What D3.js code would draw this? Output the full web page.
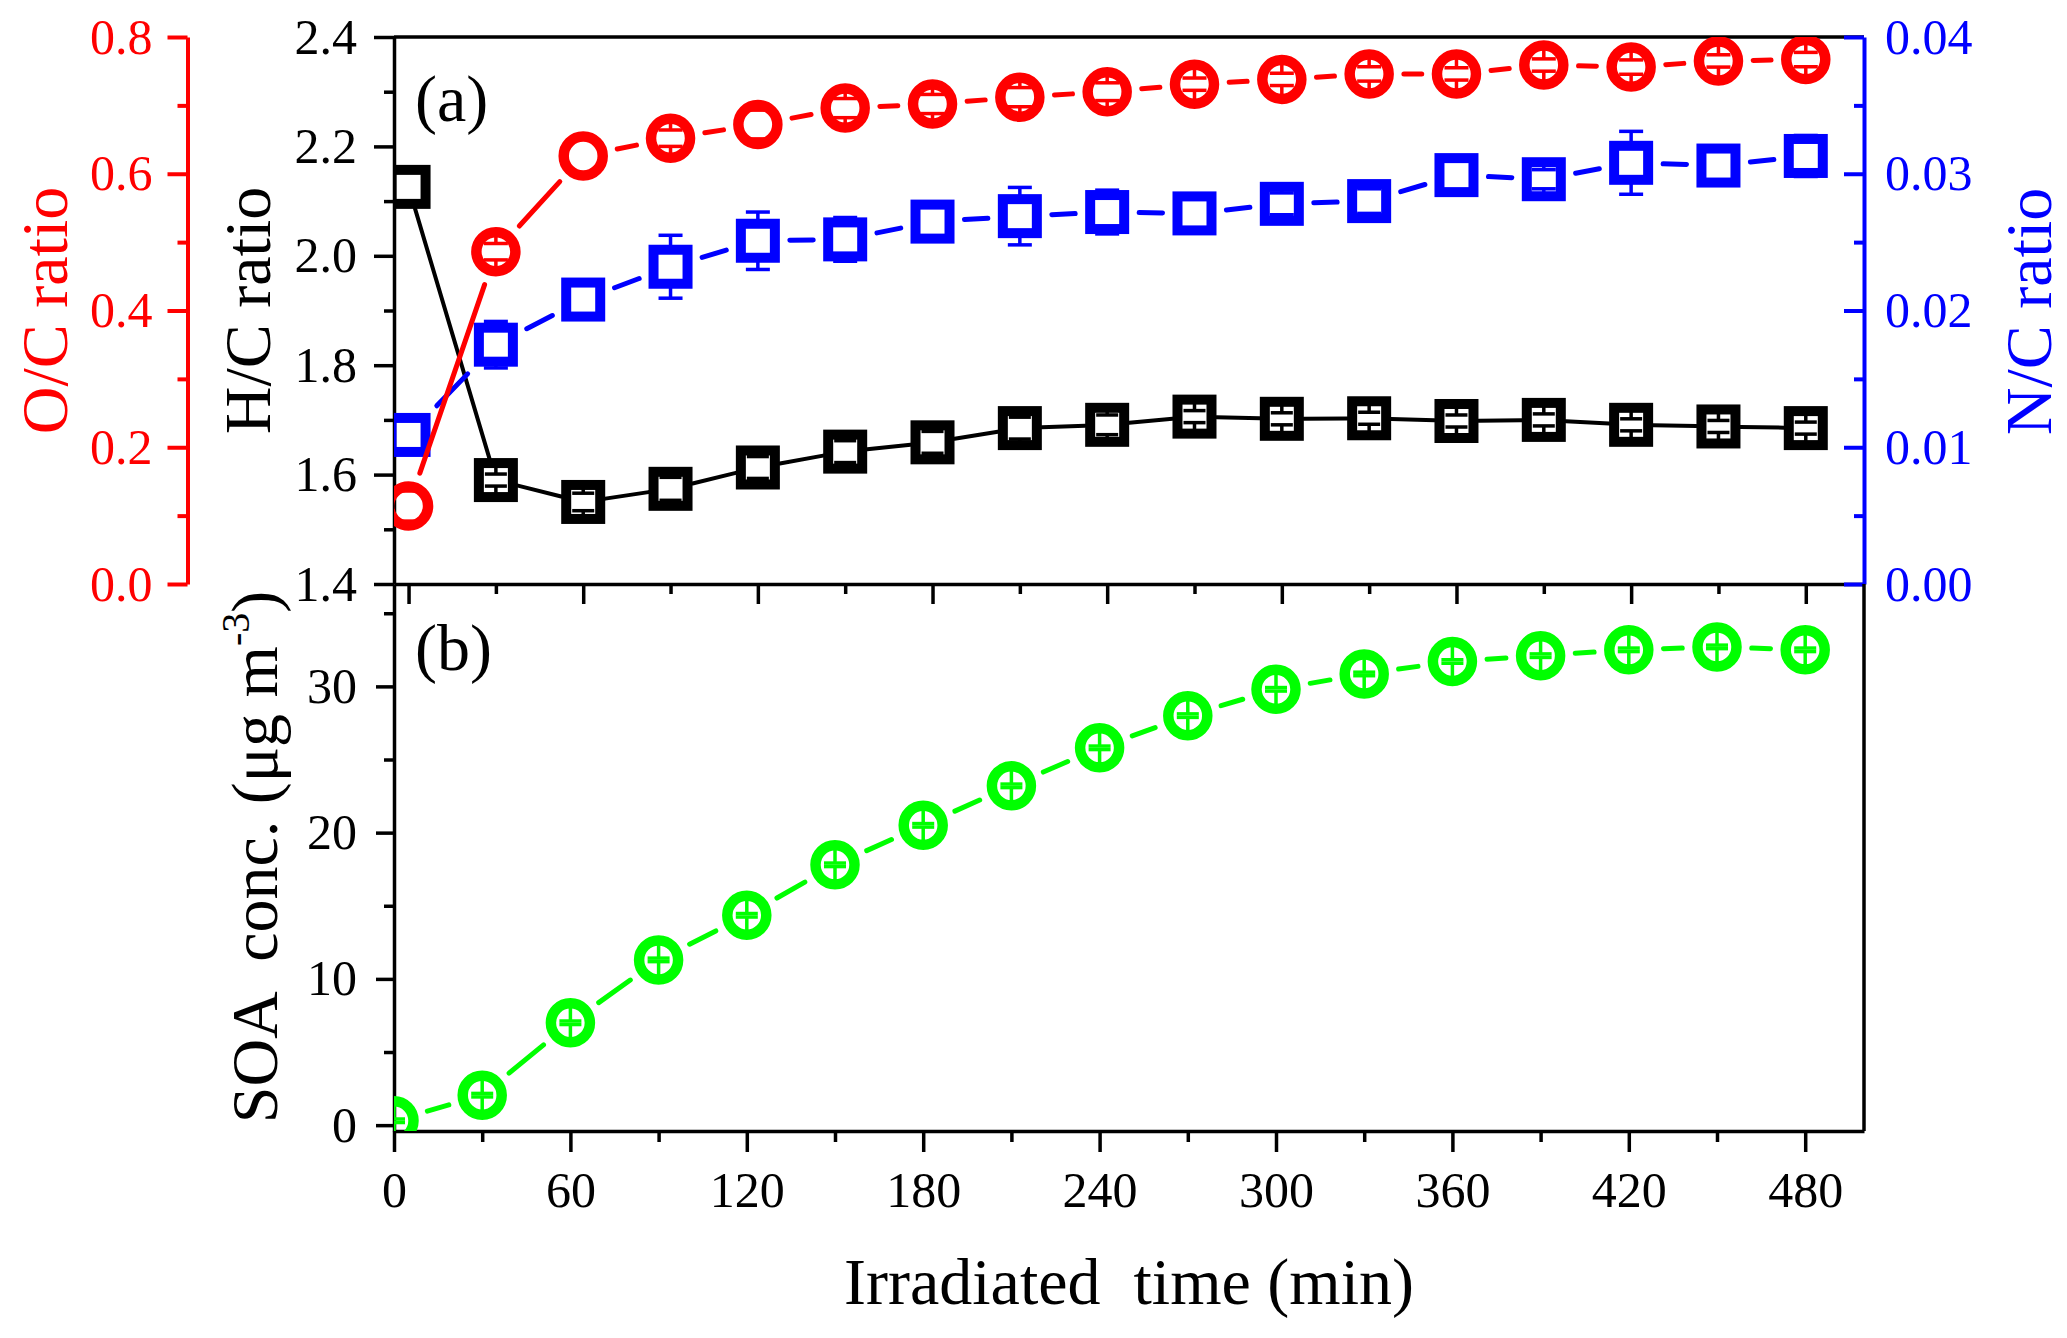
<!DOCTYPE html>
<html>
<head>
<meta charset="utf-8">
<script src="https://cdn.jsdelivr.net/npm/d3@7"></script>
<style>
  body { margin: 0; background: #fff; }
  svg text { font-family: "Liberation Serif", "Times New Roman", Times, serif; }
</style>
</head>
<body>
<div id="chart"></div>
<script>
// irradiated time (min), shared by both panels
const time = [0, 30, 60, 90, 120, 150, 180, 210, 240, 270, 300, 330, 360, 390, 420, 450, 480];

// panel (a)
const hc    = [2.126, 1.590, 1.550, 1.574, 1.613, 1.642, 1.659, 1.685, 1.691, 1.706, 1.702, 1.703, 1.698, 1.700, 1.691, 1.688, 1.685];
const hcErr = [null, 0.011, 0.016, 0.021, 0.020, 0.020, 0.020, 0.020, 0.018, 0.011, 0.011, 0.011, 0.011, 0.011, 0.011, 0.011, 0.011];
const oc    = [0.114, 0.486, 0.626, 0.652, 0.672, 0.696, 0.702, 0.712, 0.720, 0.731, 0.738, 0.746, 0.746, 0.759, 0.756, 0.765, 0.767];
const ocErr = [0.022, 0.012, null, 0.012, 0.021, 0.014, 0.014, 0.014, 0.013, 0.009, 0.009, 0.0105, 0.009, 0.009, 0.0105, 0.009, 0.0105];
const nc    = [0.0109, 0.0175, 0.0208, 0.0232, 0.0251, 0.0252, 0.0265, 0.0269, 0.0272, 0.0271, 0.0278, 0.0280, 0.0299, 0.0296, 0.0308, 0.0306, 0.0313];
const ncErr = [null, 0.0017, null, 0.0023, 0.0021, 0.0016, null, 0.0021, 0.0016, null, 0.0008, 0.0009, null, 0.0007, 0.0023, null, 0.0015];

// panel (b)
const soa    = [0.3, 2.05, 7.0, 11.3, 14.35, 17.8, 20.5, 23.2, 25.8, 28.0, 29.8, 30.85, 31.7, 32.1, 32.5, 32.7, 32.5];
const soaErr = [0.12, 0.12, 0.12, 0.12, 0.12, 0.12, 0.12, 0.12, 0.12, 0.12, 0.12, 0.12, 0.12, 0.12, 0.12, 0.12, 0.12];

// ticks
const xMajor = [0, 60, 120, 180, 240, 300, 360, 420, 480];
const xMinor = [30, 90, 150, 210, 270, 330, 390, 450];
const hcMajor = [1.4, 1.6, 1.8, 2.0, 2.2, 2.4];
const hcMinor = [1.5, 1.7, 1.9, 2.1, 2.3];
const ocMajor = [0.0, 0.2, 0.4, 0.6, 0.8];
const ocMinor = [0.1, 0.3, 0.5, 0.7];
const ncMajor = [0.00, 0.01, 0.02, 0.03, 0.04];
const ncMinor = [0.005, 0.015, 0.025, 0.035];
const soaMajor = [0, 10, 20, 30];
const soaMinor = [5, 15, 25, 35];

const W = 2067, H = 1338;
const left = 394, right = 1864, topA = 37, midY = 584, botB = 1131;
const RED = "#ff0000", BLUE = "#0000ff", GREEN = "#00ff00";
const FONT = '"Liberation Serif", "Times New Roman", Times, serif';

const svg = d3.select("#chart").append("svg")
  .attr("width", W).attr("height", H)
  .style("background", "#fff");

const xA = d3.scaleLinear().domain([-5, 500]).range([left, right]);
const xB = d3.scaleLinear().domain([0, 500]).range([left, right]);
const yHC = d3.scaleLinear().domain([1.4, 2.4]).range([midY, topA]);
const yOC = d3.scaleLinear().domain([0, 0.8]).range([midY, topA]);
const yNC = d3.scaleLinear().domain([0, 0.04]).range([midY, topA]);
const ySOA = d3.scaleLinear().domain([-0.4, 37]).range([botB, midY]);

const defs = svg.append("defs");
defs.append("clipPath").attr("id", "clipA").append("rect")
  .attr("x", left).attr("y", topA).attr("width", right - left).attr("height", midY - topA);
defs.append("clipPath").attr("id", "clipB").append("rect")
  .attr("x", left).attr("y", midY).attr("width", right - left).attr("height", botB - midY);

function styleAxis(g, color, lw) {
  g.attr("font-family", FONT).attr("font-size", 50);
  g.select(".domain").attr("stroke", color).attr("stroke-width", lw);
  g.selectAll(".tick line").attr("stroke", color).attr("stroke-width", lw);
  g.selectAll(".tick text").attr("fill", color);
}
function noDomain(g) { g.select(".domain").remove(); }

// ---- panel (a) axes ----
svg.append("line")
  .attr("x1", left).attr("x2", right).attr("y1", topA).attr("y2", topA)
  .attr("stroke", "#000").attr("stroke-width", 3.5);

// bottom of (a): ticks point down, no labels
svg.append("g").attr("transform", `translate(0,${midY})`)
  .call(d3.axisBottom(xA).tickValues(xMajor).tickSize(20).tickSizeOuter(0).tickFormat(""))
  .call(styleAxis, "#000", 3.5);
svg.append("g").attr("transform", `translate(0,${midY})`)
  .call(d3.axisBottom(xA).tickValues(xMinor).tickSize(10).tickFormat(""))
  .call(styleAxis, "#000", 3.5).call(noDomain);

// H/C axis
svg.append("g").attr("transform", `translate(${left},0)`)
  .call(d3.axisLeft(yHC).tickValues(hcMajor).tickSize(20).tickSizeOuter(0).tickPadding(17).tickFormat(d3.format(".1f")))
  .call(styleAxis, "#000", 3.5);
svg.append("g").attr("transform", `translate(${left},0)`)
  .call(d3.axisLeft(yHC).tickValues(hcMinor).tickSize(10).tickFormat(""))
  .call(styleAxis, "#000", 3.5).call(noDomain);

// O/C offset axis
svg.append("g").attr("transform", "translate(187.5,0)")
  .call(d3.axisLeft(yOC).tickValues(ocMajor).tickSize(20).tickSizeOuter(0).tickPadding(15).tickFormat(d3.format(".1f")))
  .call(styleAxis, RED, 4);
svg.append("g").attr("transform", "translate(187.5,0)")
  .call(d3.axisLeft(yOC).tickValues(ocMinor).tickSize(10).tickFormat(""))
  .call(styleAxis, RED, 4).call(noDomain);

// N/C axis, ticks inward
svg.append("g").attr("transform", `translate(${right},0)`)
  .call(d3.axisRight(yNC).tickValues(ncMajor).tickSizeInner(-20).tickSizeOuter(0).tickPadding(21).tickFormat(d3.format(".2f")))
  .call(styleAxis, BLUE, 4);
svg.append("g").attr("transform", `translate(${right},0)`)
  .call(d3.axisRight(yNC).tickValues(ncMinor).tickSizeInner(-10).tickSizeOuter(0).tickFormat(""))
  .call(styleAxis, BLUE, 4).call(noDomain);

// ---- panel (b) axes ----
svg.append("line")
  .attr("x1", right).attr("x2", right).attr("y1", midY).attr("y2", botB)
  .attr("stroke", "#000").attr("stroke-width", 3.5);

svg.append("g").attr("transform", `translate(0,${botB})`)
  .call(d3.axisBottom(xB).tickValues(xMajor).tickSize(21).tickSizeOuter(0).tickPadding(19).tickFormat(d3.format("d")))
  .call(styleAxis, "#000", 3.5);
svg.append("g").attr("transform", `translate(0,${botB})`)
  .call(d3.axisBottom(xB).tickValues(xMinor).tickSize(11).tickFormat(""))
  .call(styleAxis, "#000", 3.5).call(noDomain);

svg.append("g").attr("transform", `translate(${left},0)`)
  .call(d3.axisLeft(ySOA).tickValues(soaMajor).tickSize(18).tickSizeOuter(0).tickPadding(19).tickFormat(d3.format("d")))
  .call(styleAxis, "#000", 3.5);
svg.append("g").attr("transform", `translate(${left},0)`)
  .call(d3.axisLeft(ySOA).tickValues(soaMinor).tickSize(10).tickFormat(""))
  .call(styleAxis, "#000", 3.5).call(noDomain);

// ---- series ----
function drawSeries(clip, xs, ys, errs, x, y, o) {
  const g = svg.append("g").attr("clip-path", `url(#${clip})`);
  const pts = xs.map((t, i) => ({ x: x(t), y: y(ys[i]), v: ys[i], e: errs[i] }));
  const half = o.shape === "circle" ? o.r + o.sw / 2 : o.side / 2 + o.sw / 2;
  const edge = (ux, uy) => o.shape === "circle" ? half : half / Math.max(Math.abs(ux), Math.abs(uy));

  const segs = [];
  for (let i = 0; i < pts.length - 1; i++) {
    const p = pts[i], q = pts[i + 1];
    const dx = q.x - p.x, dy = q.y - p.y, L = Math.hypot(dx, dy);
    const ux = dx / L, uy = dy / L;
    const s = edge(ux, uy) + o.gap;
    if (L > 2 * s) segs.push({ x1: p.x + ux * s, y1: p.y + uy * s, x2: q.x - ux * s, y2: q.y - uy * s });
  }
  g.selectAll("line.seg").data(segs).join("line").attr("class", "seg")
    .attr("x1", d => d.x1).attr("y1", d => d.y1).attr("x2", d => d.x2).attr("y2", d => d.y2)
    .attr("stroke", o.color).attr("stroke-width", o.lw).attr("stroke-linecap", "round");

  if (o.shape === "circle") {
    g.selectAll("circle.mk").data(pts).join("circle").attr("class", "mk")
      .attr("cx", d => d.x).attr("cy", d => d.y).attr("r", o.r)
      .attr("fill", "none").attr("stroke", o.color).attr("stroke-width", o.sw);
  } else {
    g.selectAll("rect.mk").data(pts).join("rect").attr("class", "mk")
      .attr("x", d => d.x - o.side / 2).attr("y", d => d.y - o.side / 2)
      .attr("width", o.side).attr("height", o.side)
      .attr("fill", "none").attr("stroke", o.color).attr("stroke-width", o.sw);
  }

  // error bars: cap at +-e, stem from cap to symbol edge
  const eb = pts.filter(d => d.e != null);
  const stemEdge = o.shape === "circle" ? o.r : o.side / 2;
  const bars = [];
  eb.forEach(d => {
    const ey = Math.abs(y(d.v + d.e) - d.y);
    [-1, 1].forEach(k => {
      bars.push({ x1: d.x, x2: d.x, y1: d.y + k * ey, y2: d.y + k * stemEdge });
      bars.push({ x1: d.x - o.cap / 2, x2: d.x + o.cap / 2, y1: d.y + k * ey, y2: d.y + k * ey });
    });
  });
  g.selectAll("line.eb").data(bars).join("line").attr("class", "eb")
    .attr("x1", d => d.x1).attr("y1", d => d.y1).attr("x2", d => d.x2).attr("y2", d => d.y2)
    .attr("stroke", o.color).attr("stroke-width", 3.5);
}

drawSeries("clipA", time, hc, hcErr, xA, yHC,
  { color: "#000", shape: "square", side: 34, sw: 10, gap: 0, lw: 4, cap: 22 });
drawSeries("clipA", time, nc, ncErr, xA, yNC,
  { color: BLUE, shape: "square", side: 34, sw: 10, gap: 10, lw: 5, cap: 24 });
drawSeries("clipA", time, oc, ocErr, xA, yOC,
  { color: RED, shape: "circle", r: 19.5, sw: 10.5, gap: 10, lw: 5, cap: 24 });
drawSeries("clipB", time, soa, soaErr, xB, ySOA,
  { color: GREEN, shape: "circle", r: 19.5, sw: 10.5, gap: 10, lw: 5, cap: 22 });

// ---- labels ----
const txt = (x, y, s, color, size, rot) => svg.append("text")
  .attr("transform", rot ? `translate(${x},${y}) rotate(-90)` : `translate(${x},${y})`)
  .attr("text-anchor", "middle").attr("fill", color)
  .style("font-size", size + "px").style("white-space", "pre")
  .text(s);

txt(67, 310.5, "O/C ratio", RED, 66, true);
txt(270, 310.5, "H/C ratio", "#000", 66, true);
txt(2051, 311.5, "N/C ratio", BLUE, 66, true);
txt(1129, 1304, "Irradiated  time (min)", "#000", 66, false);

const soaLab = svg.append("text")
  .attr("transform", "translate(277,857) rotate(-90)")
  .attr("text-anchor", "middle").attr("fill", "#000")
  .style("font-size", "66px").style("white-space", "pre");
soaLab.append("tspan").text("SOA  conc. (\u03bcg m");
soaLab.append("tspan").attr("dy", -28).style("font-size", "40px").text("-3");
soaLab.append("tspan").attr("dy", 28).text(")");

svg.append("text").attr("x", 415).attr("y", 121).style("font-size", "66px").text("(a)");
svg.append("text").attr("x", 415).attr("y", 670).style("font-size", "66px").text("(b)");
</script>
</body>
</html>
